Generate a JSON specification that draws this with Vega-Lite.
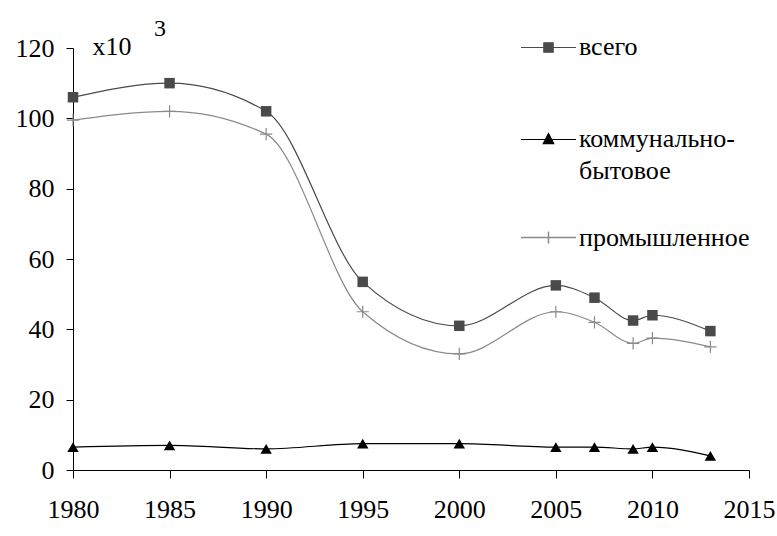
{
  "$schema": "https://vega.github.io/schema/vega-lite/v6.json",
  "width": 676,
  "height": 422,
  "autosize": "none",
  "padding": {"left": 73, "top": 48, "right": 28, "bottom": 66},
  "background": "white",
  "title": {"text": "3", "anchor": "start", "frame": "group", "dx": 81, "dy": 22, "offset": 0, "font": "Liberation Serif", "fontSize": 24, "fontWeight": "normal", "color": "black"},
  "config": {
    "view": {"stroke": null},
    "font": "Liberation Serif",
    "axis": {"grid": false, "domainColor": "black", "tickColor": "black", "labelColor": "black", "labelFont": "Liberation Serif", "labelFontSize": 26, "domainWidth": 1, "tickWidth": 1},
    "legend": {"labelFont": "Liberation Serif", "labelFontSize": 26, "labelColor": "black", "labelLimit": 400}
  },
  "data": {"values": [
    {"year": 1980, "series": "всего", "value": 106},
    {"year": 1985, "series": "всего", "value": 110},
    {"year": 1990, "series": "всего", "value": 102},
    {"year": 1995, "series": "всего", "value": 53.5},
    {"year": 2000, "series": "всего", "value": 41},
    {"year": 2005, "series": "всего", "value": 52.5},
    {"year": 2007, "series": "всего", "value": 49},
    {"year": 2009, "series": "всего", "value": 42.5},
    {"year": 2010, "series": "всего", "value": 44},
    {"year": 2013, "series": "всего", "value": 39.5},
    {"year": 1980, "series": "коммунально-бытовое", "value": 6.5},
    {"year": 1985, "series": "коммунально-бытовое", "value": 7},
    {"year": 1990, "series": "коммунально-бытовое", "value": 6},
    {"year": 1995, "series": "коммунально-бытовое", "value": 7.5},
    {"year": 2000, "series": "коммунально-бытовое", "value": 7.5},
    {"year": 2005, "series": "коммунально-бытовое", "value": 6.5},
    {"year": 2007, "series": "коммунально-бытовое", "value": 6.5},
    {"year": 2009, "series": "коммунально-бытовое", "value": 6},
    {"year": 2010, "series": "коммунально-бытовое", "value": 6.5},
    {"year": 2013, "series": "коммунально-бытовое", "value": 4},
    {"year": 1980, "series": "промышленное", "value": 99.5},
    {"year": 1985, "series": "промышленное", "value": 102},
    {"year": 1990, "series": "промышленное", "value": 95.5},
    {"year": 1995, "series": "промышленное", "value": 45},
    {"year": 2000, "series": "промышленное", "value": 33},
    {"year": 2005, "series": "промышленное", "value": 45},
    {"year": 2007, "series": "промышленное", "value": 42},
    {"year": 2009, "series": "промышленное", "value": 36},
    {"year": 2010, "series": "промышленное", "value": 37.5},
    {"year": 2013, "series": "промышленное", "value": 35}
  ]},
  "encoding": {
    "x": {"field": "year", "type": "quantitative", "scale": {"domain": [1980, 2015], "nice": false, "zero": false},
      "axis": {"values": [1980, 1985, 1990, 1995, 2000, 2005, 2010, 2015], "format": "d", "title": null, "tickSize": 8, "labelPadding": 18, "labelFlush": false, "labelOverlap": false}},
    "y": {"field": "value", "type": "quantitative", "scale": {"domain": [0, 120], "nice": false},
      "axis": {"values": [0, 20, 40, 60, 80, 100, 120], "title": "x10", "titleAngle": 0, "titleX": 19, "titleY": -2, "titleAlign": "left", "titleBaseline": "middle", "titleFont": "Liberation Serif", "titleFontSize": 26, "titleFontWeight": "normal", "titleColor": "black", "tickSize": 7, "labelPadding": 12}}
  },
  "layer": [
    {
      "mark": {"type": "line", "interpolate": "monotone", "strokeWidth": 1.2},
      "encoding": {
        "color": {"field": "series", "type": "nominal",
          "scale": {"domain": ["всего", "коммунально-бытовое", "промышленное"], "range": ["#4a4a4a", "#000000", "#8a8a8a"]},
          "legend": {"orient": "none", "legendX": 447, "legendY": -29, "title": null, "padding": 0, "rowPadding": 51,
            "values": ["всего", "коммунально-бытовое"],
            "symbolSize": 3025, "labelOffset": 2,
            "labelExpr": "datum.label == 'коммунально-бытовое' ? ['коммунально-', 'бытовое'] : datum.label",
            "encode": {
              "symbols": {"update": {
                "shape": {"signal": "datum.value == 'всего' ? 'M-1,0H1M-0.17,-0.17H0.17V0.17H-0.17Z' : 'M-1,0H1M0,-0.22L0.19,0.15H-0.19Z'"},
                "fill": {"signal": "datum.value == 'всего' ? '#4a4a4a' : '#000000'"},
                "stroke": {"signal": "datum.value == 'всего' ? '#4a4a4a' : '#000000'"},
                "strokeWidth": {"value": 1.2},
                "size": {"value": 3025},
                "opacity": {"value": 1}
              }},
              "labels": {"update": {"lineHeight": {"value": 32}, "baseline": {"value": "top"}, "dy": {"value": -14}}}
            }
          }
        }
      }
    },
    {
      "transform": [{"filter": "datum.series != 'промышленное'"}],
      "mark": {"type": "point", "filled": true, "opacity": 1},
      "encoding": {
        "shape": {"field": "series", "type": "nominal", "scale": {"domain": ["всего", "коммунально-бытовое"], "range": ["square", "triangle-up"]}, "legend": null},
        "fill": {"field": "series", "type": "nominal", "scale": {"domain": ["всего", "коммунально-бытовое"], "range": ["#4a4a4a", "#000000"]}, "legend": null},
        "size": {"field": "series", "type": "nominal", "scale": {"domain": ["всего", "коммунально-бытовое"], "range": [110, 130]}, "legend": null}
      }
    },
    {
      "transform": [{"filter": "datum.series == 'промышленное'"}],
      "mark": {"type": "point", "shape": "M-1,0H1M0,-1V1", "filled": false, "stroke": "#8a8a8a", "strokeWidth": 1.2, "size": 150, "opacity": 1},
      "encoding": {}
    },
    {
      "transform": [{"filter": "datum.series == 'промышленное'"}],
      "mark": {"type": "point", "shape": "M-1,0H1M0,-0.22V0.22", "filled": false, "stroke": "#8a8a8a", "strokeWidth": 1.2, "size": 0},
      "encoding": {
        "opacity": {"field": "series", "type": "ordinal", "scale": {"domain": ["промышленное"], "range": [1, 1]},
          "legend": {"orient": "none", "legendX": 447, "legendY": 161, "title": null, "padding": 0,
            "symbolSize": 3025, "labelOffset": 2,
            "encode": {
              "symbols": {"update": {
                "fill": {"value": "transparent"},
                "stroke": {"value": "#8a8a8a"},
                "strokeWidth": {"value": 1.2},
                "size": {"value": 3025},
                "opacity": {"value": 1}
              }},
              "labels": {"update": {"baseline": {"value": "top"}, "dy": {"value": -14}}}
            }
          }
        }
      }
    }
  ]
}
